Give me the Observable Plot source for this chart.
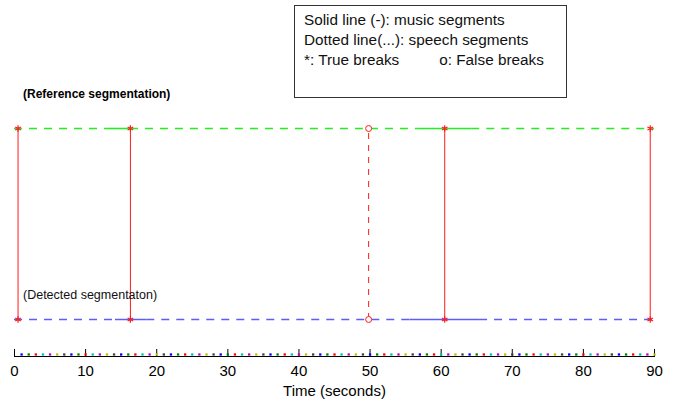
<!DOCTYPE html>
<html><head><meta charset="utf-8">
<script src="https://cdn.jsdelivr.net/npm/d3@7"></script>
<script src="https://cdn.jsdelivr.net/npm/@observablehq/plot@0.6"></script>
<style>
body{margin:0;background:#fff;font-family:"Liberation Sans",Arial,sans-serif}
#wrap{position:relative;width:678px;height:401px;overflow:hidden}
#wrap svg{position:absolute;left:0;top:0}
#legend{position:absolute;left:294px;top:5px;width:273px;height:93px;box-sizing:border-box;border:1px solid #333;background:#fff;padding:4px 0 0 9px;font-size:15.3px;line-height:20px;color:#111;white-space:pre}
#legend .gap{padding-left:40px}
</style></head><body><div id="wrap"></div>
<script>
// ---- data ----
const xTicks = [0, 10, 20, 30, 40, 50, 60, 70, 80, 90];
const refSpeech = [[0, 13.1], [16.3, 56.7], [64.3, 90]];
const refMusic  = [[13.1, 16.3], [56.7, 64.3]];
const detSpeech = [[0, 14.2], [18.6, 55.6], [65.4, 90]];
const detMusic  = [[14.2, 18.6], [55.6, 65.4]];
const trueBreaks  = [0.5, 16.3, 60.5, 89.4];
const falseBreaks = [49.8];
const seconds = d3.range(1, 91);
const palette = ["#0000ff", "#008000", "#ff0000", "#00bfbf", "#bf00bf", "#bfbf00", "#404040"];
const legendLines = ["Solid line (-): music segments", "Dotted line(...): speech segments"];
const legendBreaks = ["*: True breaks", "o: False breaks"];
const refLabel = "(Reference segmentation)";
const detLabel = "(Detected segmentaton)";
const xLabel = "Time (seconds)";

// ---- layout ----
const W = 678, H = 401, mL = 14, mR = 24, mT = 10, mB = 45;
const REF = 1, DET = 0;
const green = "#22ee22", blue = "#5c5cff", red = "#ff1a1a";

const chart = Plot.plot({
  width: W, height: H,
  marginLeft: mL, marginRight: mR, marginTop: mT, marginBottom: mB,
  x: {domain: [0, 90]},
  y: {domain: [0, 1], range: [319, 128], axis: null},
  color: {type: "identity"},
  style: {fontFamily: "Liberation Sans, Arial, sans-serif", fontSize: "15px", background: "white", color: "#000"},
  marks: [
    Plot.ruleY(refSpeech, {x1: d => d[0], x2: d => d[1], y: REF, stroke: green, strokeWidth: 1.6, strokeDasharray: "8,7"}),
    Plot.ruleY(refMusic,  {x1: d => d[0], x2: d => d[1], y: REF, stroke: green, strokeWidth: 1.6}),
    Plot.ruleY(detSpeech, {x1: d => d[0], x2: d => d[1], y: DET, stroke: blue, strokeWidth: 1.6, strokeDasharray: "8,7"}),
    Plot.ruleY(detMusic,  {x1: d => d[0], x2: d => d[1], y: DET, stroke: blue, strokeWidth: 1.6}),
    Plot.ruleX(trueBreaks,  {x: d => d, y1: DET, y2: REF, stroke: red, strokeWidth: 1}),
    Plot.ruleX(falseBreaks, {x: d => d, y1: DET, y2: REF, stroke: red, strokeWidth: 1, strokeDasharray: "6,6"}),
    Plot.dot(trueBreaks, {x: d => d, y: REF, symbol: "asterisk", r: 3, stroke: red, strokeWidth: 1.2}),
    Plot.dot(trueBreaks, {x: d => d, y: DET, symbol: "asterisk", r: 3, stroke: red, strokeWidth: 1.2}),
    Plot.dot(falseBreaks, {x: d => d, y: REF, symbol: "circle", r: 3, stroke: red, fill: "white", strokeWidth: 1}),
    Plot.dot(falseBreaks, {x: d => d, y: DET, symbol: "circle", r: 3, stroke: red, fill: "white", strokeWidth: 1}),
    Plot.text([refLabel], {x: 0, y: REF, text: d => d, dx: 8.5, dy: -34, textAnchor: "start", fontSize: 12, fontWeight: "bold", fill: "#000"}),
    Plot.text([detLabel], {x: 0, y: DET, text: d => d, dx: 8.5, dy: -25, textAnchor: "start", fontSize: 12.5, fill: "#111"}),
    // bottom time axis
    Plot.frame({anchor: "bottom", stroke: "#000"}),
    Plot.ruleX(xTicks, {x: d => d, insetTop: H - mT - mB - 7, stroke: "#000"}),
    Plot.dot(seconds, {x: d => d, frameAnchor: "bottom", dy: -2, symbol: "square", r: 1.3, fill: d => palette[(d - 1) % 7]}),
    Plot.axisX(xTicks, {tickSize: 0, tickPadding: 9, fontSize: 15, label: xLabel, labelAnchor: "center", labelArrow: "none", labelOffset: 39, color: "#000"})
  ]
});

const wrap = document.getElementById("wrap");
wrap.appendChild(chart);
const legend = document.createElement("div");
legend.id = "legend";
legend.innerHTML = legendLines.map(s => `<div>${s}</div>`).join("") +
  `<div>${legendBreaks[0]}<span class="gap">${legendBreaks[1]}</span></div>`;
wrap.appendChild(legend);
</script>
</body></html>
